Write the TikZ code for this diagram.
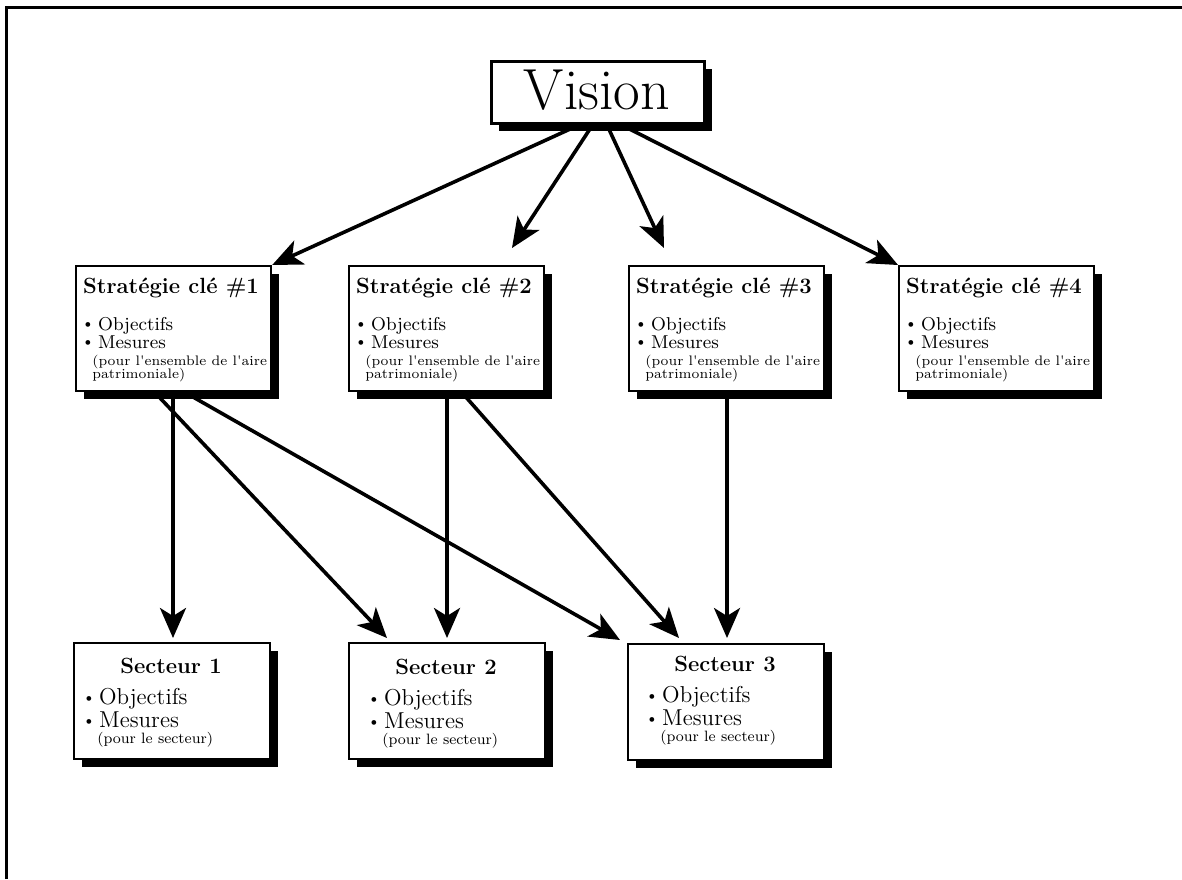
\documentclass[tikz,border=0pt]{standalone}
\usetikzlibrary{shadows,arrows.meta}

% small round bullet placed before list items
\newcommand\bul{\raisebox{0.6pt}{\fontsize{8}{8}\selectfont\textbullet}\hspace{1.8pt}}

\tikzset{
  box/.style={draw=black, line width=1.1pt, fill=white, anchor=north west, inner sep=0pt,
    drop shadow={shadow xshift=4pt, shadow yshift=-4pt, opacity=1, fill=black}},
  arr/.style={line width=1.8pt, -{Stealth[length=15pt,width=13pt,inset=4pt]}},
  ttl/.style={anchor=base, inner sep=0pt, font=\fontsize{11}{13}\selectfont\bfseries},
  bltS/.style={anchor=base west, inner sep=0pt, font=\fontsize{9.3}{11}\selectfont},
  bltC/.style={anchor=base west, inner sep=0pt, font=\fontsize{11.5}{13}\selectfont},
  sml/.style={anchor=base west, inner sep=0pt, font=\fontsize{6.9}{8}\selectfont},
  smlC/.style={anchor=base west, inner sep=0pt, font=\fontsize{7.5}{9}\selectfont},
}

% key strategy box: name, left x, top y, number
\newcommand\stratbox[4]{%
  \node[box, minimum width=97.5pt, minimum height=62.5pt] (#1) at (#2,#3) {};
  \node[ttl] (#1t) at (#2+96,#3+28) {Stratégie clé \##4};
  \node[bltS] (#1a) at (#2+6,#3+65) {\bul Objectifs};
  \node[bltS] (#1b) at (#2+6,#3+83) {\bul Mesures};
  \node[sml] (#1c) at (#2+17,#3+100) {(pour l\textquotesingle ensemble de l\textquotesingle aire};
  \node[sml] (#1d) at (#2+17,#3+113) {patrimoniale)};
}

% sector box: name, left x, top y, number, bullet indent, vertical shift
\newcommand\sectbox[6]{%
  \node[box, minimum width=98pt, minimum height=58pt] (#1) at (#2,#3) {};
  \node[ttl] (#1t) at (#2+98,#3+31+#6) {Secteur #4};
  \node[bltC] (#1a) at (#2+#5,#3+62+#6) {\bul Objectifs};
  \node[bltC] (#1b) at (#2+#5,#3+85+#6) {\bul Mesures};
  \node[smlC] (#1c) at (#2+#5+15,#3+101+#6) {(pour le secteur)};
}

\begin{document}
\begin{tikzpicture}[x=0.5pt, y=-0.5pt]
  \useasboundingbox (0,0) rectangle (1182,879);
  \fill[white] (0,0) rectangle (1182,879);

  % page frame (top and left rules)
  \draw[line width=1.5pt] (6.5,879) -- (6.5,7.5) -- (1182,7.5);

  % vision
  \node[box, line width=1.3pt, minimum width=106.5pt, minimum height=31pt] (vision) at (490,60) {};
  \node[anchor=base, inner sep=0pt, font=\fontsize{29}{32}\selectfont] (visiont) at (597,109) {Vision};

  % key strategies
  \stratbox{s1}{75}{265}{1}
  \stratbox{s2}{348}{265}{2}
  \stratbox{s3}{628}{265}{3}
  \stratbox{s4}{898}{265}{4}

  % sectors
  \sectbox{c1}{73}{642}{1}{9}{0}
  \sectbox{c2}{348}{642}{2}{19}{1}
  \sectbox{c3}{627}{643}{3}{18}{-3}

  % arrow ends that stop short of the boxes
  \coordinate (t2) at (512,248);
  \coordinate (t3) at (664,248);
  \coordinate (u1) at (173,638);
  \coordinate (u2a) at (387,638);
  \coordinate (u2b) at (447,638);
  \coordinate (u3a) at (620,640);
  \coordinate (u3b) at (679,638);
  \coordinate (u3c) at (727,638);

  % vision to strategies
  \draw[arr] ([xshift=-9pt]vision.south) -- (s1.north east);
  \draw[arr] ([xshift=-2.5pt]vision.south) -- (t2);
  \draw[arr] ([xshift=4.5pt]vision.south) -- (t3);
  \draw[arr] ([xshift=11.5pt]vision.south) -- (s4.north west);

  % strategies to sectors
  \draw[arr] (s1.south -| u1) -- (u1);
  \draw[arr] ([xshift=-9.5pt]s1.south) -- (u2a);
  \draw[arr] ([xshift=5.5pt]s1.south) -- (u3a);
  \draw[arr] (s2.south -| u2b) -- (u2b);
  \draw[arr] ([xshift=7.5pt]s2.south) -- (u3b);
  \draw[arr] (s3.south -| u3c) -- (u3c);
\end{tikzpicture}
\end{document}
